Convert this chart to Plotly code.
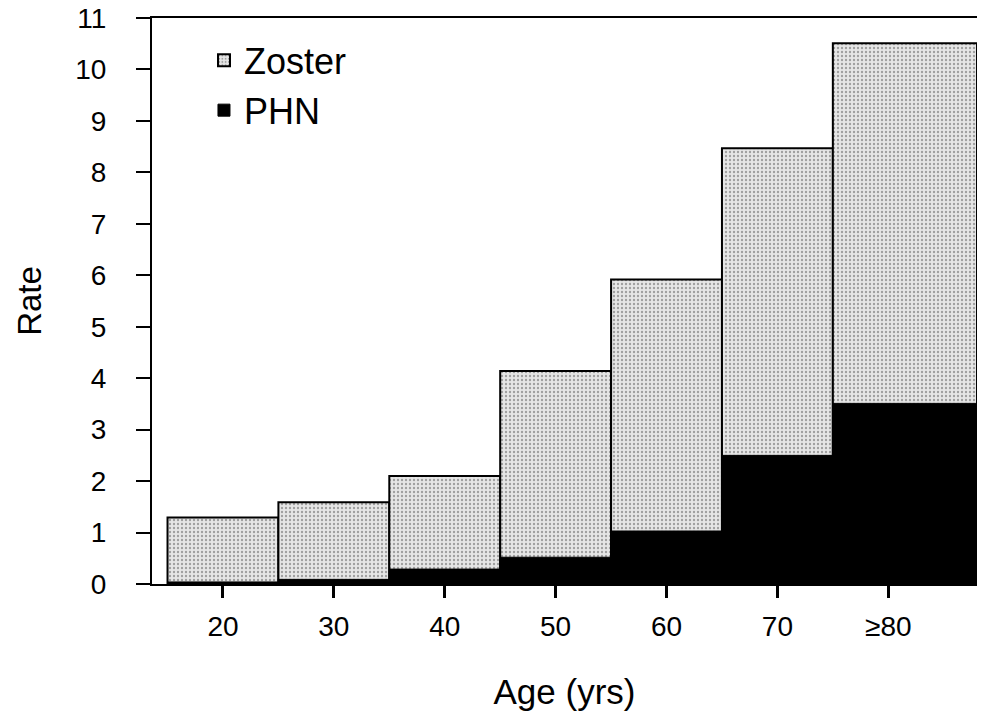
import plotly.graph_objects as go

# Age bins (years)
bin_start = [15, 25, 35, 45, 55, 65, 75]
bin_end = [25, 35, 45, 55, 65, 75, 88]
tick_vals = [20, 30, 40, 50, 60, 70, 80]
tick_text = ["20", "30", "40", "50", "60", "70", "≥80"]

# Rates
zoster = [1.29, 1.59, 2.10, 4.14, 5.92, 8.47, 10.51]
phn = [0.04, 0.09, 0.29, 0.52, 1.03, 2.50, 3.51]

y_ticks = list(range(0, 12))

x_mid = [(a + b) / 2 for a, b in zip(bin_start, bin_end)]
widths = [b - a for a, b in zip(bin_start, bin_end)]

FONT = "Liberation Sans, Arial, Helvetica, sans-serif"

fig = go.Figure()
fig.add_trace(go.Bar(
    x=x_mid, y=zoster, width=widths, name="Zoster",
    marker=dict(
        color="#e4e4e4",
        line=dict(color="black", width=2),
        pattern=dict(shape=".", fgcolor="#5a5a5a", bgcolor="#e6e6e6", size=4, solidity=0.28),
    ),
))
fig.add_trace(go.Bar(
    x=x_mid, y=phn, width=widths, name="PHN",
    marker=dict(color="black", line=dict(color="black", width=1)),
))

fig.update_layout(
    width=985, height=711,
    barmode="overlay",
    paper_bgcolor="white", plot_bgcolor="white",
    margin=dict(l=152, r=8, t=18, b=127),
    font=dict(family=FONT, color="black", size=28),
    showlegend=True,
    legend=dict(
        x=0.063, y=0.978, xanchor="left", yanchor="top",
        font=dict(size=36, family=FONT, color="black"),
        bgcolor="rgba(0,0,0,0)", tracegroupgap=0,
        itemwidth=30,
    ),
)
fig.update_xaxes(
    range=[13.6, 88], tickmode="array", tickvals=tick_vals, ticktext=tick_text,
    showgrid=False, zeroline=False, automargin=False,
    showline=True, linecolor="black", linewidth=2, mirror=True,
    ticks="outside", ticklen=12, tickwidth=3, tickcolor="black",
    ticklabelstandoff=4,
    tickfont=dict(size=28),
    title=dict(text="Age (yrs)", font=dict(size=35), standoff=39),
)
fig.update_yaxes(
    range=[0, 11], tickmode="array", tickvals=y_ticks,
    showgrid=False, zeroline=False, automargin=False,
    showline=True, linecolor="black", linewidth=2, mirror=False,
    ticks="outside", ticklen=14, tickwidth=2, tickcolor="black",
    ticklabelstandoff=24, ticklabeloverflow="allow",
    tickfont=dict(size=28),
    title=dict(text="Rate", font=dict(size=33), standoff=24),
)

fig.write_html(
    "out.html",
    config={"displayModeBar": False},
    post_script="document.body.style.margin='0';document.body.style.padding='0';",
)
